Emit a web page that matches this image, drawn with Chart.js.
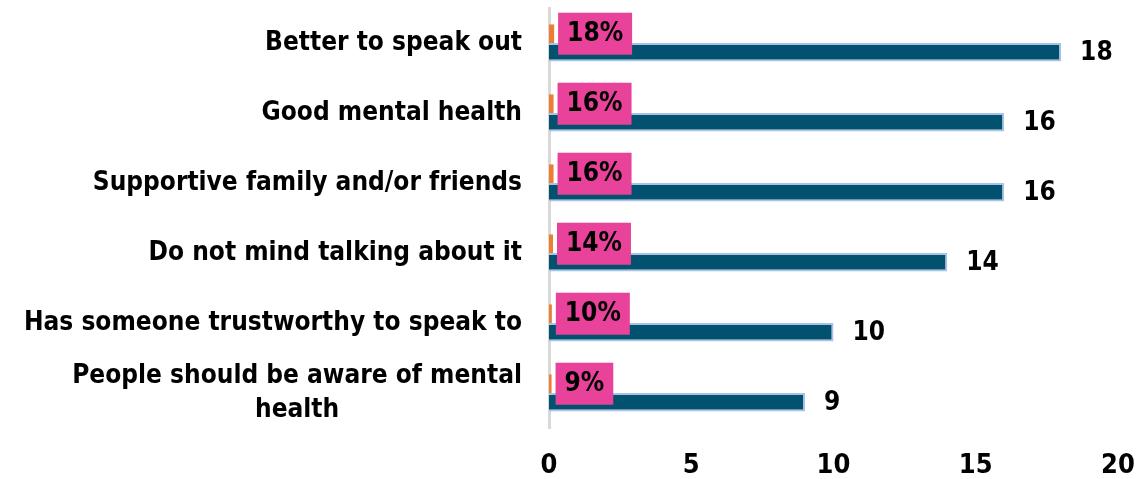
<!DOCTYPE html>
<html>
<head>
<meta charset="utf-8">
<script src="https://cdn.jsdelivr.net/npm/chart.js@4.4.1/dist/chart.umd.min.js"></script>
<style>
  html, body { margin: 0; padding: 0; background: #fff; }
  #chart { display: block; }
</style>
</head>
<body>
<canvas id="chart" width="1139" height="479"></canvas>
<script>
// Reasons given — each entry is the label split into lines
const categories = [
  ["Better to speak out"],
  ["Good mental health"],
  ["Supportive family and/or friends"],
  ["Do not mind talking about it"],
  ["Has someone trustworthy to speak to"],
  ["People should be aware of mental", "health"]
];
const counts = [18, 16, 16, 14, 10, 9];            // number of respondents
const shares = [0.18, 0.16, 0.16, 0.14, 0.10, 0.09]; // share of respondents
const xTicks = [0, 5, 10, 15, 20];

const FONT = "'DejaVu Sans Condensed', 'DejaVu Sans', sans-serif";
const TEAL = "#02516f";
const ORANGE = "#ed7d31";
const PINK = "#e8429a";
const LINE_H = 34;

const labelPlugin = {
  id: "barLabels",
  afterDatasetsDraw(chart) {
    const ctx = chart.ctx;
    const yScale = chart.scales.y;
    ctx.save();

    // category names: block sits right-aligned, lines centred inside it
    ctx.font = `bold 26px ${FONT}`;
    ctx.fillStyle = "#000";
    ctx.textAlign = "center";
    ctx.textBaseline = "middle";
    categories.forEach((lines, i) => {
      const w = Math.max(...lines.map(l => ctx.measureText(l).width));
      const cx = yScale.right - 27 - w / 2;
      const cy = yScale.getPixelForValue(i);
      lines.forEach((l, k) => ctx.fillText(l, cx, cy + (k - (lines.length - 1) / 2) * LINE_H));
    });

    // pink percentage tags next to the small orange bars
    ctx.font = `bold 26px ${FONT}`;
    ctx.textAlign = "left";
    chart.getDatasetMeta(0).data.forEach((bar, i) => {
      const txt = Math.round(shares[i] * 100) + "%";
      const w = ctx.measureText(txt).width + 18;
      const h = 42;
      const x = bar.x + 4;
      ctx.fillStyle = PINK;
      ctx.fillRect(x, bar.y - h / 2, w, h);
      ctx.fillStyle = "#000";
      ctx.fillText(txt, x + 9, bar.y + 1);
    });

    // counts at the end of the teal bars
    ctx.font = `bold 26px ${FONT}`;
    chart.getDatasetMeta(1).data.forEach((bar, i) => {
      ctx.fillStyle = "#000";
      ctx.fillText(String(counts[i]), bar.x + 19, bar.y + 1);
    });
    ctx.restore();
  }
};

new Chart(document.getElementById("chart"), {
  type: "bar",
  data: {
    labels: categories,
    datasets: [
      {
        label: "Share",
        data: shares,
        backgroundColor: ORANGE,
        borderWidth: 0,
        categoryPercentage: 0.53,
        barPercentage: 1.0
      },
      {
        label: "Count",
        data: counts,
        backgroundColor: TEAL,
        borderColor: "#a9c3e6",
        borderWidth: 2,
        borderSkipped: "start",
        categoryPercentage: 0.53,
        barPercentage: 1.0
      }
    ]
  },
  options: {
    indexAxis: "y",
    responsive: false,
    animation: false,
    layout: { padding: { top: 8, right: 21, left: 0, bottom: 0 } },
    plugins: {
      legend: { display: false },
      tooltip: { enabled: false }
    },
    scales: {
      y: {
        grid: { display: false, drawTicks: false },
        border: { display: true, color: "#d9d9d9", width: 3 },
        ticks: { display: false },
        afterFit: s => { s.width = 549; }
      },
      x: {
        min: xTicks[0],
        max: xTicks[xTicks.length - 1],
        afterBuildTicks: s => { s.ticks = xTicks.map(v => ({ value: v })); },
        grid: { display: false, drawTicks: false },
        border: { display: false },
        ticks: {
          color: "#000",
          padding: 22,
          font: { family: FONT, weight: "bold", size: 27 }
        },
        // tick padding is vertical only here; keep it out of the side margins
        afterFit: s => { s.height = 51; s.paddingLeft = 0; s.paddingRight = 0; }
      }
    }
  },
  plugins: [labelPlugin]
});
</script>
</body>
</html>
